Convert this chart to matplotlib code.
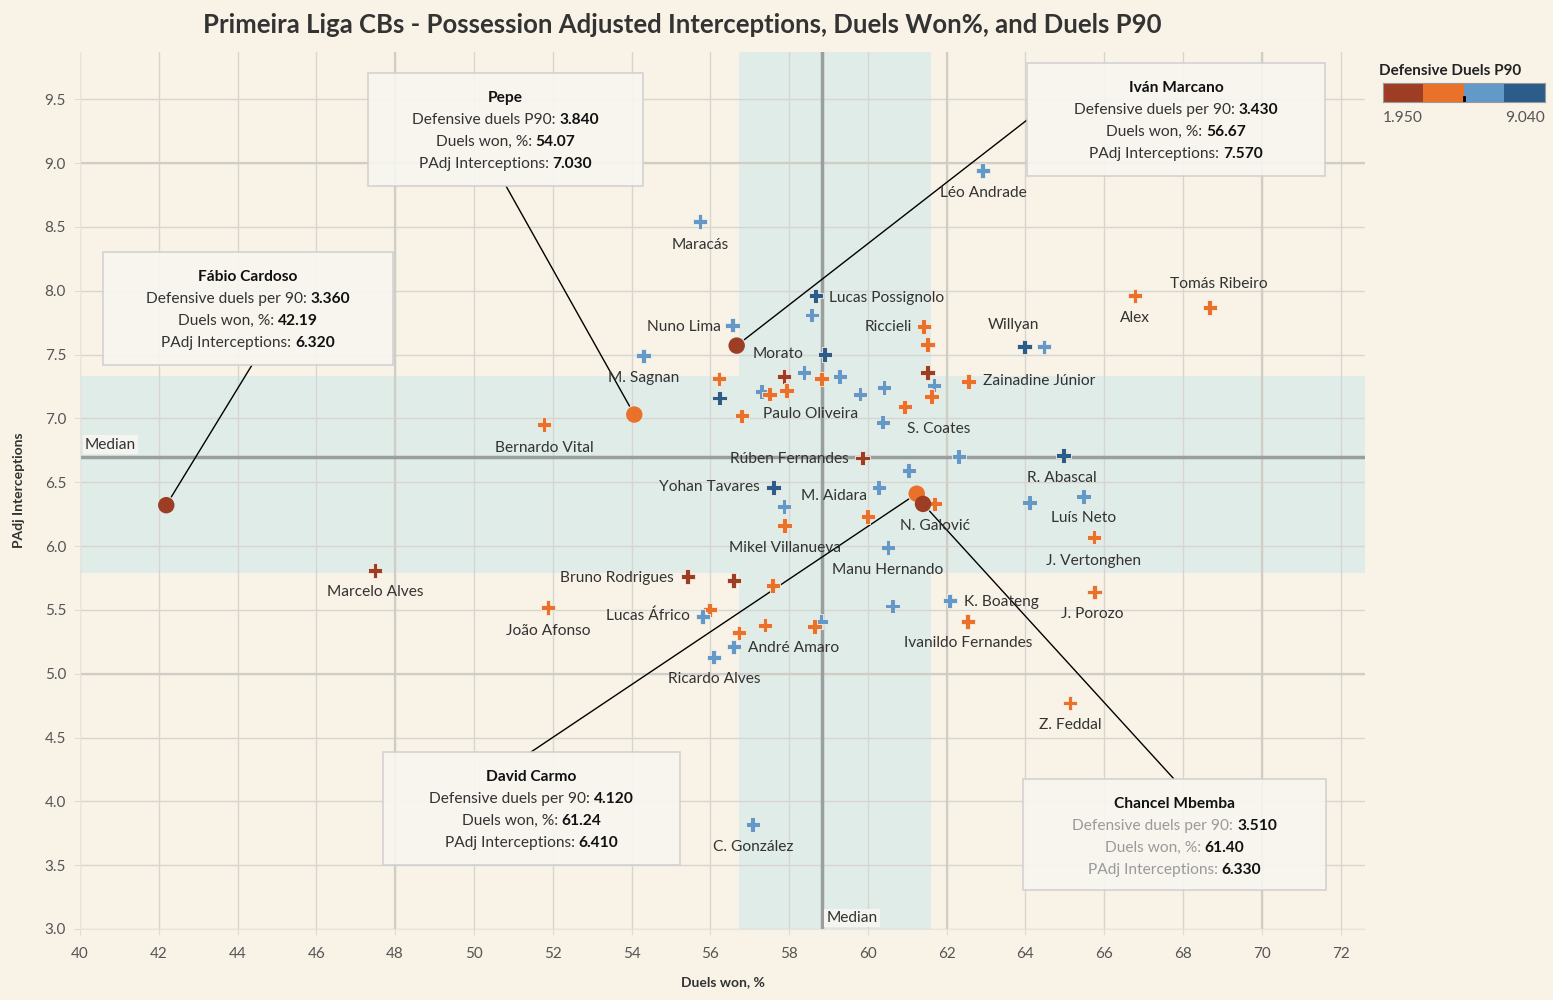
import numpy as np
import matplotlib
matplotlib.use("Agg")
import matplotlib.pyplot as plt
from matplotlib.colors import ListedColormap, BoundaryNorm
from matplotlib.patches import Rectangle

plt.rcParams['font.family'] = ['Lato', 'DejaVu Sans']

W, H = 1553, 1000

# Colour bins for defensive duels P90 (legend runs from min to max in 4 equal steps)
p90_min, p90_max = 1.950, 9.040
bin_colors = ['#9c3d24', '#ea712a', '#6399c8', '#2b5c8a']

# Players shown as plus markers
names = ['Léo Andrade', 'Maracás', 'Lucas Possignolo', '', 'Nuno Lima', 'Riccieli', '',
         'Morato', 'M. Sagnan', 'Willyan', '', 'Alex', 'Tomás Ribeiro', '', '', '', '', '',
         '', '', '', 'Zainadine Júnior', '', '', '', '', 'Paulo Oliveira', '', '', '',
         'S. Coates', 'Rúben Fernandes', '', '', 'R. Abascal', '', 'Luís Neto',
         'J. Vertonghen', 'J. Porozo', 'Z. Feddal', 'Yohan Tavares', '', 'Mikel Villanueva',
         'M. Aidara', 'N. Galović', '', 'Manu Hernando', 'Bruno Rodrigues', '', '', '',
         'Lucas Áfrico', '', 'K. Boateng', 'Ivanildo Fernandes', '', '', '', '',
         'André Amaro', 'Ricardo Alves', 'Bernardo Vital', 'Marcelo Alves', 'João Afonso',
         'C. González']
duels_won = [62.92, 55.74, 58.68, 58.58, 56.57, 61.42, 61.52,
             58.91, 54.31, 63.98, 64.47, 66.78, 68.68, 56.22, 57.87, 58.38, 58.83, 59.29,
             61.52, 61.68, 61.62, 62.56, 57.31, 57.51, 57.94, 56.24, 56.80, 59.80, 60.41, 60.94,
             60.38, 59.87, 62.31, 61.04, 64.97, 64.11, 65.48,
             65.74, 65.76, 65.13, 57.61, 57.87, 57.89,
             60.28, 61.70, 60.00, 60.51, 55.43, 56.60, 57.59, 55.99,
             55.81, 60.63, 62.08, 62.54, 58.81, 58.65, 57.39, 56.73,
             56.60, 56.09, 51.78, 47.49, 51.88,
             57.08]
interceptions = [8.94, 8.54, 7.96, 7.81, 7.73, 7.72, 7.58,
                 7.50, 7.49, 7.56, 7.56, 7.96, 7.87, 7.31, 7.33, 7.36, 7.31, 7.33,
                 7.36, 7.26, 7.17, 7.29, 7.21, 7.19, 7.22, 7.16, 7.02, 7.19, 7.24, 7.09,
                 6.97, 6.69, 6.70, 6.59, 6.71, 6.34, 6.39,
                 6.07, 5.64, 4.77, 6.46, 6.31, 6.16,
                 6.46, 6.33, 6.23, 5.99, 5.76, 5.73, 5.69, 5.50,
                 5.45, 5.53, 5.57, 5.41, 5.41, 5.37, 5.38, 5.32,
                 5.21, 5.13, 6.95, 5.81, 5.52,
                 3.82]
p90_bin = [2, 2, 3, 2, 2, 1, 1,
           3, 2, 3, 2, 1, 1, 1, 0, 2, 1, 2,
           0, 2, 1, 1, 2, 1, 1, 3, 1, 2, 2, 1,
           2, 0, 2, 2, 3, 2, 2,
           1, 1, 1, 3, 2, 1,
           2, 1, 1, 2, 0, 0, 1, 1,
           2, 2, 2, 1, 2, 1, 1, 1,
           2, 2, 1, 0, 1,
           2]

# Highlighted players (circles with callout boxes)
hl_names = ['Fábio Cardoso', 'Pepe', 'Iván Marcano', 'David Carmo', 'Chancel Mbemba']
hl_p90 = [3.360, 3.840, 3.430, 4.120, 3.510]
hl_won = [42.19, 54.07, 56.67, 61.24, 61.40]
hl_int = [6.320, 7.030, 7.570, 6.410, 6.330]

median_won = 58.83
median_int = 6.70
band_won = (56.73, 61.60)
band_int = (5.79, 7.33)

# label offsets in pixels (dx, dy, ha)
label_pos = {
    'Léo Andrade': (0, -22, 'center'), 'Maracás': (0, -23, 'center'),
    'Lucas Possignolo': (13, -2, 'left'), 'Nuno Lima': (-12, -2, 'right'),
    'Riccieli': (-12, -1, 'right'), 'Morato': (-21, 1, 'right'),
    'M. Sagnan': (0, -22, 'center'), 'Willyan': (-11, 22, 'center'),
    'Alex': (0, -22, 'center'), 'Tomás Ribeiro': (9, 23, 'center'),
    'Zainadine Júnior': (14, 0, 'left'), 'Paulo Oliveira': (21, 2, 'left'),
    'S. Coates': (24, -7, 'left'), 'Rúben Fernandes': (-14, -1, 'right'),
    'R. Abascal': (-2, -23, 'center'), 'Luís Neto': (0, -22, 'center'),
    'J. Vertonghen': (0, -24, 'center'), 'J. Porozo': (-3, -22, 'center'),
    'Z. Feddal': (0, -22, 'center'), 'Yohan Tavares': (-14, 0, 'right'),
    'Mikel Villanueva': (0, -22, 'center'), 'M. Aidara': (-12, -9, 'right'),
    'N. Galović': (0, -22, 'center'), 'Manu Hernando': (0, -23, 'center'),
    'Bruno Rodrigues': (-14, -1, 'right'), 'Lucas Áfrico': (-13, 0, 'right'),
    'K. Boateng': (14, -1, 'left'), 'Ivanildo Fernandes': (0, -22, 'center'),
    'André Amaro': (14, -1, 'left'), 'Ricardo Alves': (0, -22, 'center'),
    'Bernardo Vital': (0, -23, 'center'), 'Marcelo Alves': (0, -22, 'center'),
    'João Afonso': (0, -24, 'center'), 'C. González': (0, -23, 'center'),
}

bg = '#f9f3e7'
txt = '#333333'
fs = 11.2

fig = plt.figure(figsize=(W / 100, H / 100), dpi=100, facecolor=bg)
ax = fig.add_axes([80 / W, 1 - 929 / H, 1285 / W, 877 / H], facecolor=bg)
ax.set_xlim(40, 72.62)
ax.set_ylim(3.0, 9.87)

ax.axvspan(*band_won, color='#dfece8', zorder=0, lw=0)
ax.axhspan(*band_int, color='#dfece8', zorder=0, lw=0)

ax.set_xticks(np.arange(40, 73, 2))
ax.set_yticks(np.arange(3.0, 9.51, 0.5))
ax.set_yticklabels([f'{v:.1f}' for v in np.arange(3.0, 9.51, 0.5)])
ax.grid(color='#d8d5cf', lw=1, zorder=1)
ax.set_axisbelow(True)
for v in [48, 62, 70]:
    ax.axvline(v, color='#d0ccc6', lw=1.6, zorder=1)
for v in [5.0, 9.0]:
    ax.axhline(v, color='#d0ccc6', lw=1.6, zorder=1)

ax.axvline(median_won, color='#9a9e9c', lw=2.5, zorder=2)
ax.axhline(median_int, color='#9a9e9c', lw=2.5, zorder=2)

for s in ['top', 'right']:
    ax.spines[s].set_visible(False)
for s in ['left', 'bottom']:
    ax.spines[s].set_color('#e8e4dc')
ax.tick_params(axis='both', colors='#e0dcd4', labelcolor='#555555', labelsize=11, length=4)
ax.tick_params(axis='x', pad=9)
ax.tick_params(axis='y', pad=6)

ax.set_xlabel('Duels won, %', fontsize=10, fontweight='bold', color=txt, labelpad=11)
ax.set_ylabel('PAdj Interceptions', fontsize=10, fontweight='bold', color=txt, labelpad=14)

cmap = ListedColormap(bin_colors)
norm = BoundaryNorm([-0.5, 0.5, 1.5, 2.5, 3.5], cmap.N)
ax.scatter(duels_won, interceptions, c=p90_bin, cmap=cmap, norm=norm, marker='P', s=110,
           edgecolors='#f4efe6', linewidths=0.6, zorder=4)

edges = np.linspace(p90_min, p90_max, 5)
hl_cols = [bin_colors[min(np.searchsorted(edges, v) - 1, 3)] for v in hl_p90]
ax.scatter(hl_won, hl_int, c=hl_cols, s=140, edgecolors='none', zorder=5)

for nm, x, y in zip(names, duels_won, interceptions):
    if not nm:
        continue
    dx, dy, ha = label_pos[nm]
    ax.annotate(nm, (x, y), xytext=(dx, dy), textcoords='offset pixels', ha=ha,
                va='center', fontsize=fs, color=txt, zorder=6)

# Median labels
ax.annotate('Median', (40, median_int), xytext=(5, 12), textcoords='offset pixels',
            ha='left', va='center', fontsize=fs, color=txt, zorder=6,
            bbox=dict(boxstyle='square,pad=0.15', fc='#f4f4f0', ec='none'))
ax.annotate('Median', (median_won, 3.0), xytext=(5, 11), textcoords='offset pixels',
            ha='left', va='center', fontsize=fs, color=txt, zorder=6,
            bbox=dict(boxstyle='square,pad=0.15', fc='#f4f4f0', ec='none'))

# Callout boxes: (left, top, right, bottom) in pixels from the top-left, leader anchor
boxes = [(103, 252, 393, 365, (252, 365)),
         (368, 73, 643, 186, (506, 186)),
         (1027, 63, 1325, 176, (1027, 120)),
         (383, 752, 680, 865, (531, 752)),
         (1023, 779, 1326, 890, (1174, 779))]
first_lbl = ['Defensive duels per 90', 'Defensive duels P90', 'Defensive duels per 90',
             'Defensive duels per 90', 'Defensive duels per 90']
lbl_colors = [txt, txt, txt, txt, '#9a9a9a']

renderer = fig.canvas.get_renderer()


def mixed_line(cx, py, label, value, lcol):
    t1 = fig.text(0, 0, label, fontsize=fs, color=lcol, zorder=8)
    t2 = fig.text(0, 0, value, fontsize=fs, color='#111111', fontweight='bold', zorder=8)
    w1 = t1.get_window_extent(renderer).width
    w2 = t2.get_window_extent(renderer).width
    x0 = cx - (w1 + w2) / 2
    for t, x in [(t1, x0), (t2, x0 + w1)]:
        t.set_position((x / W, 1 - py / H))
        t.set_va('center')


for i, (l, t, r, b, anc) in enumerate(boxes):
    ax.annotate('', (hl_won[i], hl_int[i]), xytext=(anc[0], H - anc[1]),
                textcoords='figure pixels',
                arrowprops=dict(arrowstyle='-', color='black', lw=1, shrinkA=0, shrinkB=7),
                zorder=3)
    fig.add_artist(Rectangle((l / W, 1 - b / H), (r - l) / W, (b - t) / H,
                             transform=fig.transFigure, fc='#f8f6f1', ec='#cfcfcf',
                             lw=1.2, alpha=0.9, zorder=7))
    cx = (l + r) / 2
    fig.text(cx / W, 1 - (t + 25) / H, hl_names[i], ha='center', va='center',
             fontsize=fs, fontweight='bold', color='#111111', zorder=8)
    mixed_line(cx, t + 47, first_lbl[i] + ': ', f'{hl_p90[i]:.3f}', lbl_colors[i])
    mixed_line(cx, t + 69, 'Duels won, %: ', f'{hl_won[i]:.2f}', lbl_colors[i])
    mixed_line(cx, t + 91, 'PAdj Interceptions: ', f'{hl_int[i]:.3f}', lbl_colors[i])

# Title
fig.text(682 / W, 1 - 25 / H,
         'Primeira Liga CBs - Possession Adjusted Interceptions, Duels Won%, and Duels P90',
         ha='center', va='center', fontsize=18.5, fontweight='bold', color=txt)

# Colour legend
fig.text(1450 / W, 1 - 71 / H, 'Defensive Duels P90', ha='center', va='center',
         fontsize=11, fontweight='bold', color='#222222')
lax = fig.add_axes([1383 / W, 1 - 102 / H, 162 / W, 19 / H])
lax.imshow(np.arange(4).reshape(1, 4), cmap=cmap, aspect='auto', extent=(0, 4, 0, 1))
lax.plot([2, 2], [0, 0.25], color='black', lw=2)
lax.set_xlim(0, 4)
lax.set_ylim(0, 1)
lax.set_xticks([])
lax.set_yticks([])
for s in lax.spines.values():
    s.set_color('#999999')
fig.text(1383 / W, 1 - 118 / H, f'{p90_min:.3f}', ha='left', va='center', fontsize=fs,
         color='#555555')
fig.text(1545 / W, 1 - 118 / H, f'{p90_max:.3f}', ha='right', va='center', fontsize=fs,
         color='#555555')

fig.savefig('out.png', dpi=100, facecolor=bg)
